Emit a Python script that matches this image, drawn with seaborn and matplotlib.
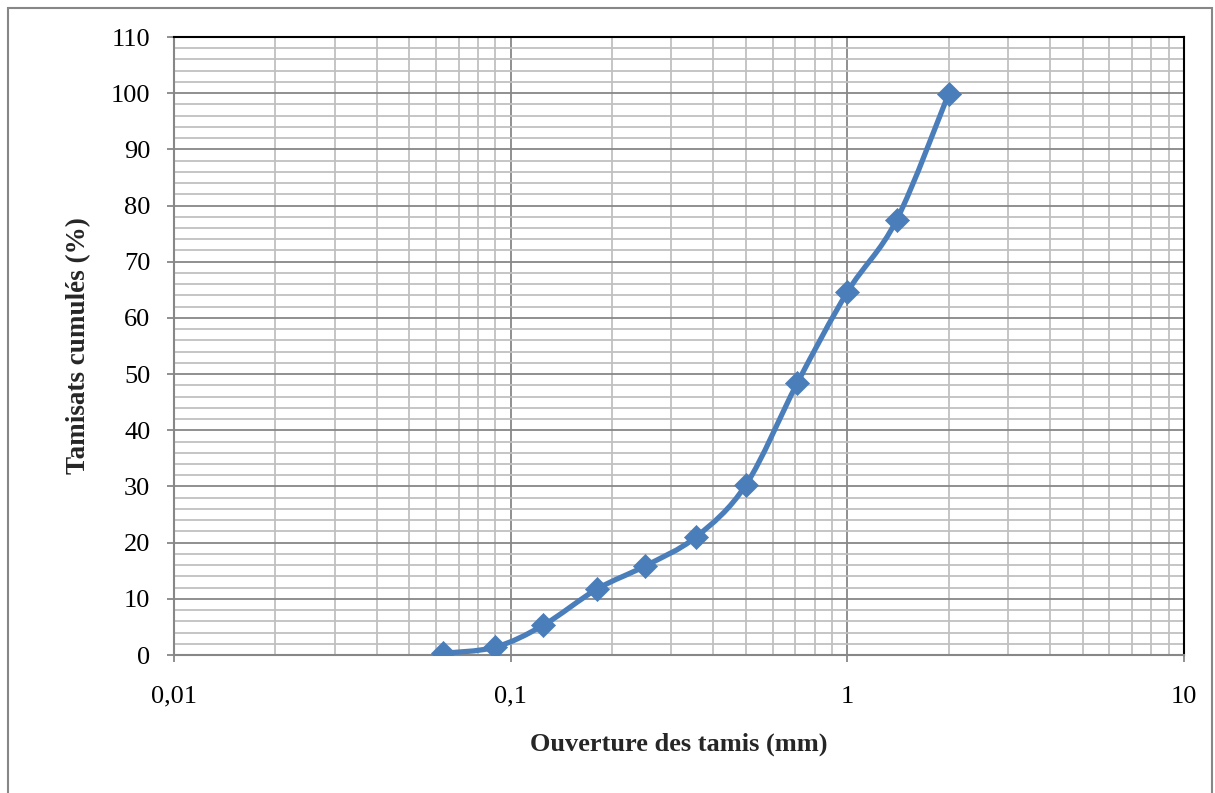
import numpy as np
import pandas as pd
import matplotlib
matplotlib.use("Agg")
import matplotlib.pyplot as plt
import seaborn as sns
from matplotlib.path import Path
from matplotlib.patches import PathPatch, Rectangle
from matplotlib.ticker import FixedLocator, FixedFormatter, NullFormatter

# Data
sieve_mm = [0.063, 0.09, 0.125, 0.18, 0.25, 0.355, 0.5, 0.71, 1.0, 1.4, 2.0]
passing_pct = [0.3, 1.4, 5.3, 11.7, 15.8, 21.0, 30.3, 48.4, 64.6, 77.4, 99.9]
x_ticks = [0.01, 0.1, 1, 10]
x_tick_labels = ["0,01", "0,1", "1", "10"]
y_ticks = list(range(0, 111, 10))

df = pd.DataFrame({"x": sieve_mm, "y": passing_pct})

sns.set_theme(style="white")
plt.rcParams["font.family"] = ["Liberation Serif", "DejaVu Serif"]

fig = plt.figure(figsize=(12.15, 7.93), dpi=100)
ax = fig.add_axes([174/1215, 1-655/793, (1184-174)/1215, (655-37)/793])

ax.set_xscale("log")
ax.set_xlim(0.01, 10)
ax.set_ylim(0, 110)

# grid
major_c = "#878787"
minor_c = "#c0c0c0"
ax.xaxis.set_major_locator(FixedLocator(x_ticks))
ax.xaxis.set_major_formatter(FixedFormatter(x_tick_labels))
minor_x = [m * d for d in [0.01, 0.1, 1] for m in range(2, 10)]
ax.xaxis.set_minor_locator(FixedLocator(minor_x))
ax.xaxis.set_minor_formatter(NullFormatter())
ax.yaxis.set_major_locator(FixedLocator(y_ticks))
ax.yaxis.set_minor_locator(FixedLocator([v for v in range(0, 111, 2) if v % 10]))
ax.yaxis.set_minor_formatter(NullFormatter())
ax.grid(True, which="major", color=major_c, linewidth=1.3)
ax.grid(True, which="minor", color=minor_c, linewidth=1.3)
ax.set_axisbelow(True)

# smooth curve (Catmull-Rom bezier in log-x space, like Excel smoothed line)
lx = np.log10(np.array(sieve_mm))
yy = np.array(passing_pct)
pts = np.column_stack([lx, yy])
n = len(pts)
verts = [pts[0]]
codes = [Path.MOVETO]
for i in range(n - 1):
    p0 = pts[i - 1] if i > 0 else pts[i]
    p1 = pts[i]
    p2 = pts[i + 1]
    p3 = pts[i + 2] if i + 2 < n else pts[i + 1]
    c1 = p1 + (p2 - p0) / 6.0
    c2 = p2 - (p3 - p1) / 6.0
    verts += [c1, c2, p2]
    codes += [Path.CURVE4] * 3
verts = np.array(verts)
verts[:, 0] = 10 ** verts[:, 0]
patch = PathPatch(Path(verts, codes), facecolor="none", edgecolor="#4a7ebb",
                  linewidth=3.8, capstyle="round", joinstyle="round", zorder=3)
ax.add_patch(patch)

sns.scatterplot(data=df, x="x", y="y", ax=ax, marker="D", s=150,
                color="#4a7ebb", edgecolor="#4a7ebb", linewidth=0.5, zorder=4,
                legend=False)

# spines
for side in ["left", "bottom"]:
    ax.spines[side].set_color("#878787")
    ax.spines[side].set_linewidth(1.5)
for side in ["top", "right"]:
    ax.spines[side].set_color("black")
    ax.spines[side].set_linewidth(1.5)

ax.tick_params(axis="both", which="major", length=5, width=1.3, color="#878787",
               labelsize=19, labelcolor="black")
ax.tick_params(axis="x", which="major", pad=17, bottom=True)
ax.tick_params(axis="y", which="major", pad=12, left=True)
ax.tick_params(axis="both", which="minor", length=0)

ax.set_xlabel("Ouverture des tamis (mm)", fontsize=19, fontweight="bold", labelpad=18)
ax.set_ylabel("Tamisats cumulés (%)", fontsize=19.5, fontweight="bold", labelpad=14)

# outer frame
fig.patches.append(Rectangle((8/1215, -0.05), (1212-8)/1215, 1.05 - 8/793,
                             transform=fig.transFigure, fill=False,
                             edgecolor="#878787", linewidth=1.5))

fig.savefig("out.png", dpi=100)
